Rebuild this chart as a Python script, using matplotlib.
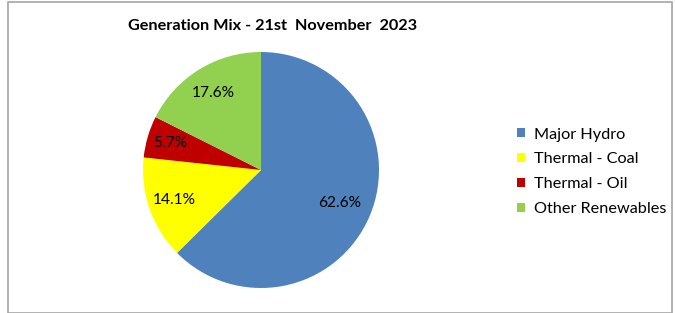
import numpy as np
import matplotlib.pyplot as plt
from matplotlib.patches import Rectangle

plt.rcParams['font.family'] = ['Lato', 'DejaVu Sans']

# data
sources = ["Major Hydro", "Thermal - Coal", "Thermal - Oil", "Other Renewables"]
shares = [62.6, 14.1, 5.7, 17.6]
colors = ["#4F81BD", "#FFFF00", "#C00000", "#92D050"]
title = "Generation Mix - 21st  November  2023"

W, H = 675, 313
fig = plt.figure(figsize=(W / 100, H / 100), dpi=100)

# outer frame of the chart area
fig.patches.append(Rectangle((8 / W, 0.5 / H), 663.5 / W, 311 / H,
                             transform=fig.transFigure, fill=False,
                             edgecolor="#A6A6A6", lw=1.2))

# pie: centre (261, 170) px, radius 118 px
cx, cy, r = 261, 170, 118
ax = fig.add_axes([(cx - r) / W, (H - cy - r) / H, 2 * r / W, 2 * r / H])
wedges, _ = ax.pie(shares, colors=colors, startangle=90, counterclock=False,
                   radius=1, wedgeprops=dict(linewidth=0))
ax.set_xlim(-1, 1)
ax.set_ylim(-1, 1)
ax.set_aspect('auto')
ax.axis('off')

# percentage labels, placed like Excel's best fit
label_dist = [0.72, 0.78, 0.80, 0.77]
for w, v, d in zip(wedges, shares, label_dist):
    ang = np.deg2rad((w.theta1 + w.theta2) / 2)
    ax.text(d * np.cos(ang), d * np.sin(ang), f"{v:.1f}%",
            ha='center', va='center', fontsize=11.2, color='black')

fig.text(273 / W, 1 - 26 / H, title, ha='center', va='center',
         fontsize=11.7, fontweight='bold')

leg = fig.legend(wedges, sources, loc='upper left',
                 bbox_to_anchor=(510 / W, 1 - 121 / H), frameon=False,
                 fontsize=11.7, handlelength=0.5, handleheight=0.5,
                 handletextpad=0.55, labelspacing=0.67, borderaxespad=0)

fig.savefig("out.png", dpi=100)
